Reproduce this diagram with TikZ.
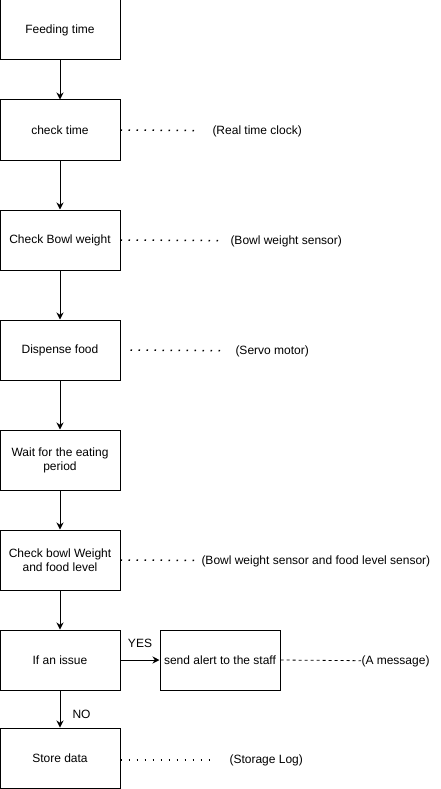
\documentclass[tikz,border=0pt]{standalone}
\usepackage{fontspec}
\setmainfont{Liberation Sans}
\usetikzlibrary{positioning,arrows.meta}

\begin{document}
\begin{tikzpicture}[x=1pt, y=1pt, -{Stealth[length=7pt,width=7pt]}, on grid, line width=1pt,
	box/.style ={rectangle, draw, fill=white, text = black, minimum width=120pt, minimum height=60pt, align=center, font=\fontsize{12}{14}\selectfont},
	hw/.style ={anchor=west, inner sep=0pt, font=\fontsize{12}{14}\selectfont},
	tag/.style ={inner sep=0pt, font=\fontsize{12}{14}\selectfont},
	dots/.style ={-, dash pattern=on 1.5pt off 6.5pt, line width=1.5pt}]
	\useasboundingbox (0,0) rectangle (441,-789);
	\node[box] (A) at (60,-30) {Feeding time};
	\node[box] (B) [below = 100pt of A] {check time};
	\node[box] (C) [below = 110pt of B] {Check Bowl weight};
	\node[box] (D) [below = 110pt of C] {Dispense food};
	\node[box] (E) [below = 110pt of D] {Wait for the eating\\period};
	\node[box] (F) [below = 100pt of E] {Check bowl Weight\\and food level};
	\node[box] (G) [below = 100pt of F] {If an issue};
	\node[box] (H) [right = 160pt of G] {send alert to the staff};
	\node[box] (I) [below = 98pt of G] {Store data};

	\node[hw] (rtc) at (212,-131) {(Real time clock)};
	\node[hw] (bws) at (230,-241) {(Bowl weight sensor)};
	\node[hw] (servo) at (235,-351) {(Servo motor)};
	\node[hw] (sensors) at (201,-561) {(Bowl weight sensor and food level sensor)};
	\node[hw] (msg) at (361,-661) {(A message)};
	\node[hw] (log) at (229,-760) {(Storage Log)};

	\draw (A) -- (B);
	\draw (B) -- (C);
	\draw (C) -- (D);
	\draw (D) -- (E);
	\draw (E) -- (F);
	\draw (F) -- (G);
	\draw (G) -- node[tag, above=12pt] {YES} (H);
	\draw (G) -- node[tag, pos=0.65, right=12pt] {NO} (I);

	\draw[dots, shorten >=17pt] (B.east) -- (rtc);
	\draw[dots, shorten >=9pt] (C.east) -- (bws);
	\draw[dots, shorten <=10pt, shorten >=15pt] (D.east) -- (servo);
	\draw[dots, shorten >=7pt] (F.east) -- (sensors);
	\draw[-, dash pattern=on 3pt off 3pt, line width=0.8pt] (H.east) -- (msg);
	\draw[dots, shorten >=18pt] (I.east |- log) -- (log);
\end{tikzpicture}
\end{document}
